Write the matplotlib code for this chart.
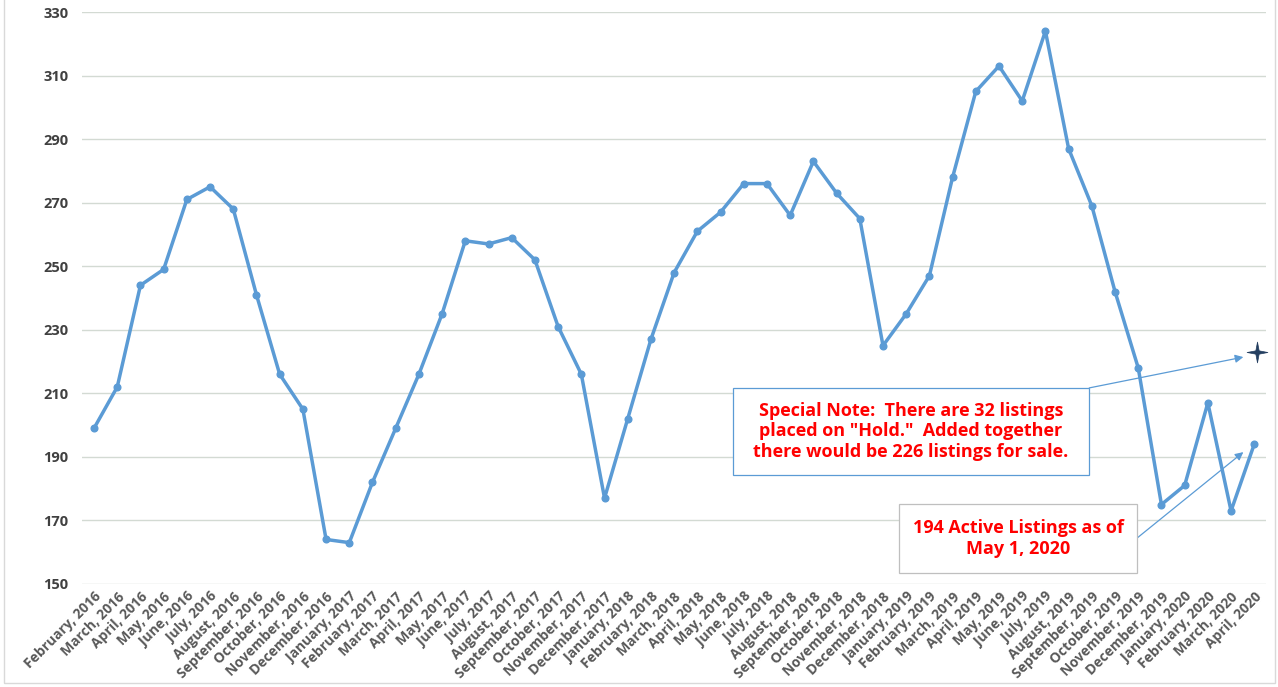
import matplotlib
matplotlib.use("Agg")
import matplotlib.pyplot as plt
from matplotlib.patches import Rectangle
from matplotlib.path import Path

label_months = (["February", "March", "April", "May", "June", "July", "August",
                 "September", "October", "November", "December"]
                + ["January", "February", "March", "April", "May", "June", "July", "August",
                   "September", "October", "November", "December"] * 3
                + ["January", "February", "March", "April"])
label_years = ([2016] * 11 + [2017] * 12 + [2018] * 12 + [2019] * 12 + [2020] * 4)
labels = [f"{m}, {y}" for m, y in zip(label_months, label_years)]

listings = [199, 212, 244, 249, 271, 275, 268, 241, 216, 205, 164,
            163, 182, 199, 216, 235, 258, 257, 259, 252, 231, 216, 177,
            202, 227, 248, 261, 267, 276, 276, 266, 283, 273, 265, 225,
            235, 247, 278, 305, 313, 302, 324, 287, 269, 242, 218, 175,
            181, 207, 173, 194]

hold_total = 223  # star marker position (with "Hold" listings)
y_ticks = [150, 170, 190, 210, 230, 250, 270, 290, 310, 330]

note1 = 'Special Note:  There are 32 listings\nplaced on "Hold."  Added together\nthere would be 226 listings for sale.'
note2 = '194 Active Listings as of\nMay 1, 2020'

fig = plt.figure(figsize=(12.78, 6.87), dpi=100)
ax = fig.add_axes([0.0645, 0.15, 0.926, 0.8325])

x = list(range(len(listings)))
ax.plot(x, listings, color="#5B9BD5", lw=2.5, marker="o", ms=4.8,
        markerfacecolor="#5B9BD5", markeredgecolor="#5B9BD5", zorder=3)

# thin four-pointed star
a = 0.16
star = Path([(0, 1), (a, a), (1, 0), (a, -a), (0, -1), (-a, -a), (-1, 0), (-a, a), (0, 1)],
            [Path.MOVETO] + [Path.LINETO] * 7 + [Path.CLOSEPOLY])
ax.plot([len(listings) - 1 + 0.13], [hold_total], marker=star, ms=15,
        color="#243F60", markeredgewidth=0.5, zorder=4, clip_on=False)

ax.set_xlim(-0.5, len(listings) - 0.5)
ax.set_ylim(150, 330)
ax.set_yticks(y_ticks)
ax.set_yticklabels([str(v) for v in y_ticks], fontsize=10.5, fontweight="bold",
                   color="#404040", family="Open Sans")
ax.set_xticks(x)
ax.set_xticklabels(labels, rotation=45, ha="right", rotation_mode="anchor",
                   fontsize=10, fontweight="bold", color="#595959", family="Open Sans")
ax.tick_params(axis="both", length=0)
ax.tick_params(axis="y", pad=10)
ax.tick_params(axis="x", pad=4)
ax.grid(axis="y", color="#d3dad3", lw=1)
ax.set_axisbelow(True)
for s in ax.spines.values():
    s.set_visible(False)

# Annotation box 1
ax.add_patch(Rectangle((27.54, 184.3), 15.35, 27.4, facecolor="white",
                       edgecolor="#5B9BD5", lw=0.9, zorder=5))
ax.text(35.2, 198.0, note1, ha="center", va="center", color="#FF0000",
        fontsize=13, fontweight="bold", family="Open Sans", linespacing=1.15, zorder=6)
ax.annotate("", xy=(49.53, 221.4), xytext=(42.89, 211.7),
            arrowprops=dict(arrowstyle="-|>", color="#5B9BD5", lw=0.9,
                            mutation_scale=12, shrinkA=0, shrinkB=0), zorder=4)

# Annotation box 2
ax.add_patch(Rectangle((34.7, 153.5), 10.26, 21.7, facecolor="white",
                       edgecolor="#BFBFBF", lw=0.9, zorder=5))
ax.text(39.83, 164.3, note2, ha="center", va="center", color="#FF0000",
        fontsize=13, fontweight="bold", family="Open Sans", linespacing=1.2, zorder=6)
ax.annotate("", xy=(49.53, 191.5), xytext=(44.96, 164.5),
            arrowprops=dict(arrowstyle="-|>", color="#5B9BD5", lw=0.9,
                            mutation_scale=12, shrinkA=0, shrinkB=0), zorder=4)

# outer chart border
fig.patches.append(Rectangle((4 / 1278, 4 / 687), 1271 / 1278, 700 / 687,
                             transform=fig.transFigure, fill=False,
                             edgecolor="#D9D9D9", lw=1))

fig.savefig("out.png", dpi=100)
